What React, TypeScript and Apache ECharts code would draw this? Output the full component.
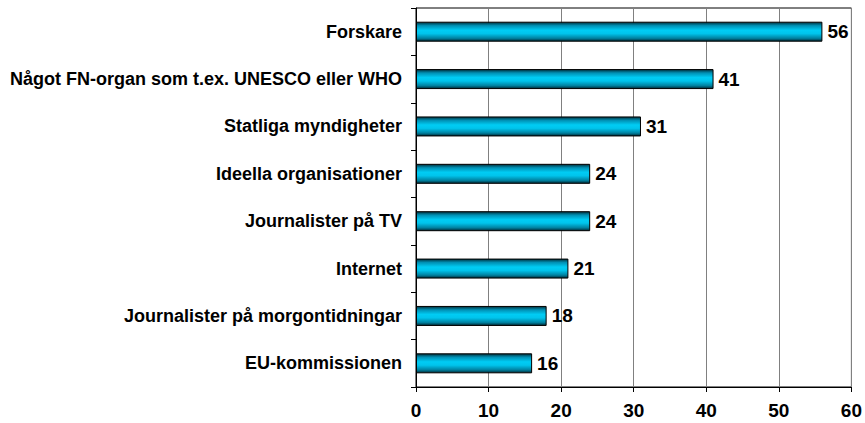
import React, { useEffect, useRef } from "react";
import * as echarts from "echarts";

const categories = [
  "Forskare",
  "Något FN-organ som t.ex. UNESCO eller WHO",
  "Statliga myndigheter",
  "Ideella organisationer",
  "Journalister på TV",
  "Internet",
  "Journalister på morgontidningar",
  "EU-kommissionen",
];
const values = [56, 41, 31, 24, 24, 21, 18, 16];
const xTicks = [0, 10, 20, 30, 40, 50, 60];

export default function App() {
  const ref = useRef<HTMLDivElement>(null);
  useEffect(() => {
    document.body.style.margin = "0";
    document.body.style.overflow = "hidden";
    const chart = echarts.init(ref.current!, null, { renderer: "svg" });
    const font = "'Liberation Sans', Arial, sans-serif";
    chart.setOption({
      animation: false,
      grid: { left: 416, right: 13, top: 8, bottom: 36, containLabel: false, show: true, borderColor: "#000", borderWidth: 1 },
      xAxis: {
        type: "value",
        min: xTicks[0],
        max: xTicks[xTicks.length - 1],
        interval: 10,
        axisLine: { show: true, lineStyle: { color: "#000", width: 1 } },
        axisTick: { show: true, length: 5, lineStyle: { color: "#000" } },
        axisLabel: { color: "#000", fontWeight: "bold", fontSize: 19, fontFamily: font, margin: 14, hideOverlap: false, showMaxLabel: true },
        splitLine: { show: true, lineStyle: { color: "#808080", width: 1 } },
      },
      yAxis: {
        type: "category",
        data: categories,
        inverse: true,
        axisLine: { show: true, lineStyle: { color: "#000", width: 1 } },
        axisTick: { show: true, length: 5, lineStyle: { color: "#000" } },
        axisLabel: { color: "#000", fontWeight: "bold", fontSize: 18, fontFamily: font, margin: 14 },
        splitLine: { show: false },
      },
      series: [
        {
          type: "bar",
          data: values,
          barWidth: 20,
          itemStyle: {
            borderColor: "#000",
            borderWidth: 1,
            color: new echarts.graphic.LinearGradient(0, 0, 0, 1, [
              { offset: 0, color: "#00303c" },
              { offset: 0.18, color: "#0090b4" },
              { offset: 0.42, color: "#00ccf4" },
              { offset: 0.6, color: "#00c4ec" },
              { offset: 0.85, color: "#00809f" },
              { offset: 1, color: "#002a35" },
            ]),
          },
          label: {
            show: true,
            position: "right",
            distance: 5,
            color: "#000",
            fontWeight: "bold",
            fontSize: 19,
            fontFamily: font,
          },
        },
      ],
    });
    return () => chart.dispose();
  }, []);
  return <div ref={ref} style={{ width: 865, height: 423 }} />;
}
